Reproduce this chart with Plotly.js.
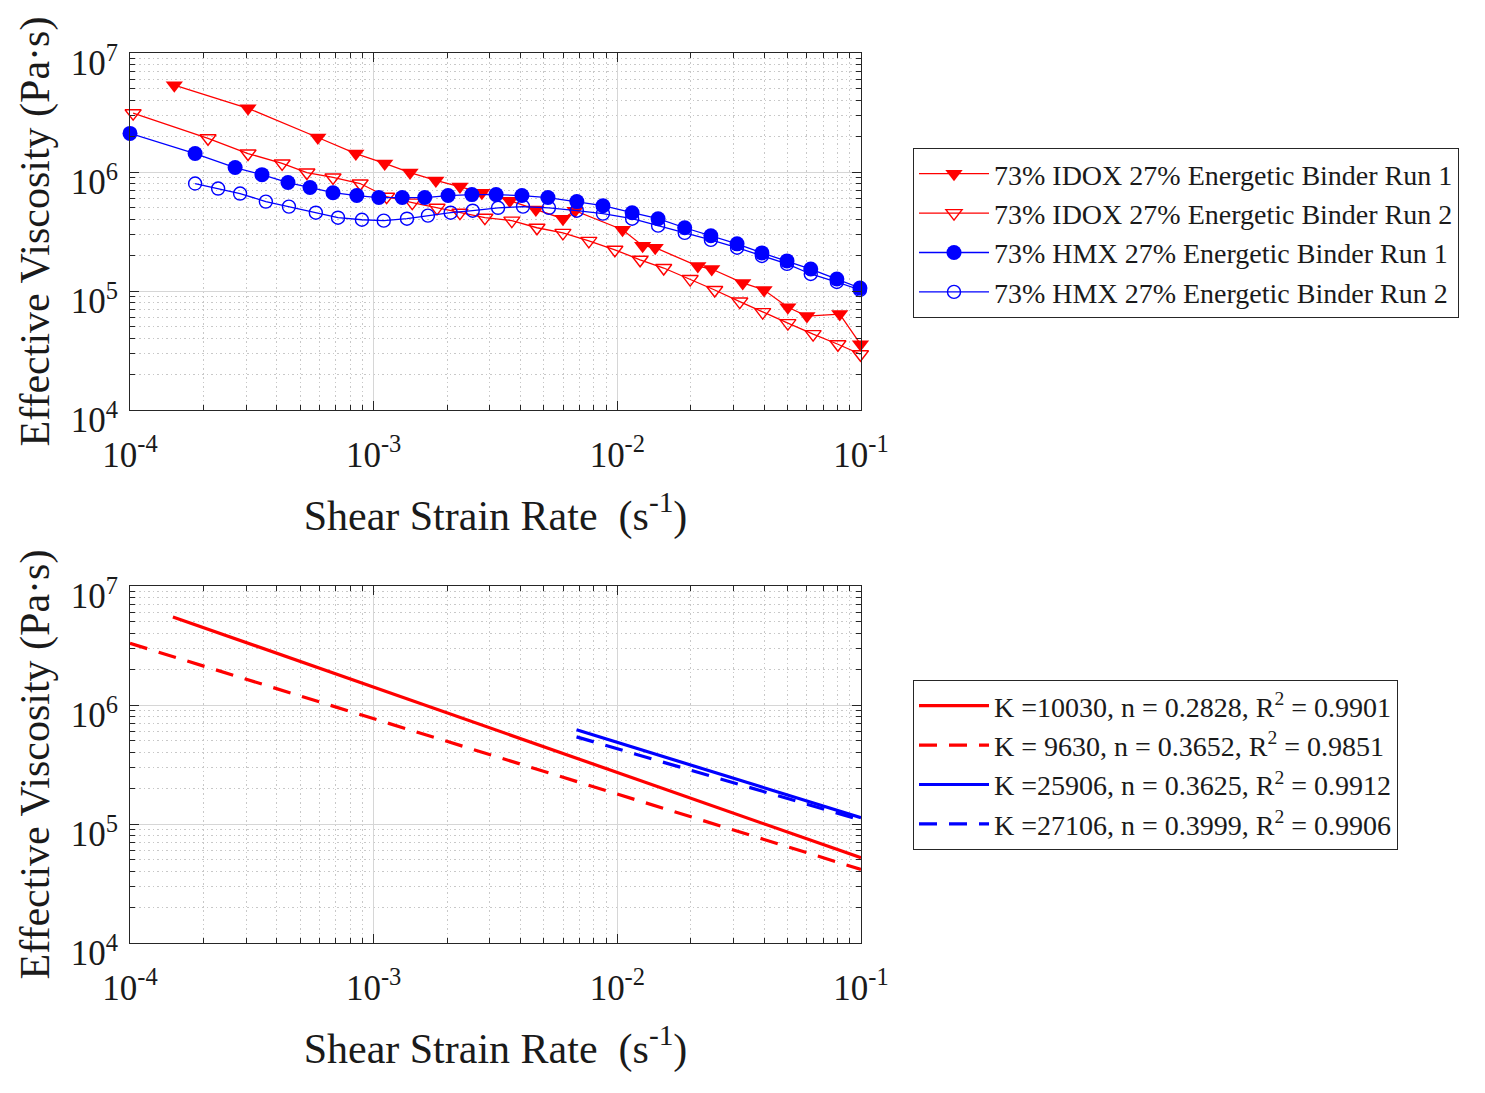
<!DOCTYPE html>
<html>
<head>
<meta charset="utf-8">
<script src="https://cdn.plot.ly/plotly-3.0.1.min.js"></script>
<style>html,body{margin:0;padding:0;background:#fff;}#chart{width:1485px;height:1093px;}</style>
</head>
<body>
<div id="chart"></div>
<script>
// ---------- data ----------
const idox1_x = [1.52e-4, 3.05e-4, 5.90e-4, 8.45e-4, 1.11e-3, 1.41e-3, 1.80e-3, 2.26e-3, 2.78e-3, 3.62e-3, 4.63e-3, 5.98e-3, 6.70e-3, 1.05e-2, 1.27e-2, 1.43e-2, 2.14e-2, 2.44e-2, 3.27e-2, 4.00e-2, 5.01e-2, 6.00e-2, 8.18e-2, 0.0995];
const idox1_y = [5.37e6, 3.43e6, 1.95e6, 1.43e6, 1.18e6, 9.9e5, 8.5e5, 7.55e5, 6.7e5, 5.74e5, 4.83e5, 4.05e5, 4.73e5, 3.27e5, 2.40e5, 2.31e5, 1.62e5, 1.53e5, 1.17e5, 1.02e5, 7.3e4, 6.15e4, 6.4e4, 3.57e4];

const idox2_x = [1.03e-4, 2.09e-4, 3.05e-4, 4.21e-4, 5.32e-4, 6.81e-4, 8.8e-4, 1.13e-3, 1.44e-3, 1.82e-3, 2.26e-3, 2.86e-3, 3.69e-3, 4.68e-3, 5.98e-3, 7.64e-3, 9.77e-3, 1.24e-2, 1.55e-2, 1.99e-2, 2.51e-2, 3.18e-2, 3.95e-2, 5.01e-2, 6.36e-2, 8.04e-2, 0.0995];
const idox2_y = [3.12e6, 1.92e6, 1.43e6, 1.18e6, 9.9e5, 9.0e5, 8.0e5, 6.2e5, 5.53e5, 5.0e5, 4.55e5, 4.13e5, 3.90e5, 3.40e5, 3.08e5, 2.64e5, 2.22e5, 1.83e5, 1.56e5, 1.26e5, 1.02e5, 8.15e4, 6.65e4, 5.37e4, 4.34e4, 3.57e4, 2.94e4];

const hmx1_x = [1.0e-4, 1.85e-4, 2.70e-4, 3.48e-4, 4.45e-4, 5.48e-4, 6.81e-4, 8.53e-4, 1.05e-3, 1.31e-3, 1.62e-3, 2.02e-3, 2.53e-3, 3.18e-3, 4.06e-3, 5.19e-3, 6.82e-3, 8.73e-3, 1.15e-2, 1.47e-2, 1.89e-2, 2.42e-2, 3.10e-2, 3.92e-2, 4.97e-2, 6.22e-2, 7.96e-2, 0.099];
const hmx1_y = [2.11e6, 1.43e6, 1.09e6, 9.5e5, 8.15e5, 7.4e5, 6.7e5, 6.34e5, 6.1e5, 6.1e5, 6.1e5, 6.34e5, 6.46e5, 6.46e5, 6.34e5, 6.1e5, 5.64e5, 5.21e5, 4.55e5, 4.05e5, 3.40e5, 2.91e5, 2.49e5, 2.09e5, 1.79e5, 1.53e5, 1.26e5, 1.06e5];

const hmx2_x = [1.85e-4, 2.30e-4, 2.83e-4, 3.61e-4, 4.49e-4, 5.79e-4, 7.14e-4, 8.95e-4, 1.10e-3, 1.37e-3, 1.67e-3, 2.07e-3, 2.55e-3, 3.24e-3, 4.10e-3, 5.24e-3, 6.82e-3, 8.73e-3, 1.15e-2, 1.47e-2, 1.89e-2, 2.42e-2, 3.10e-2, 3.92e-2, 4.97e-2, 6.22e-2, 7.96e-2, 0.099];
const hmx2_y = [8.0e5, 7.26e5, 6.59e5, 5.64e5, 5.12e5, 4.55e5, 4.13e5, 3.97e5, 3.90e5, 4.05e5, 4.30e5, 4.55e5, 4.73e5, 5.0e5, 5.12e5, 5.0e5, 4.73e5, 4.47e5, 4.05e5, 3.54e5, 3.08e5, 2.69e5, 2.31e5, 1.97e5, 1.69e5, 1.39e5, 1.19e5, 1.02e5];

// power-law fit lines (end points)
const fit_idox1_x = [1.5e-4, 0.1];
const fit_idox1_y = [5.5e6, 5.2e4];
const fit_idox2_x = [1.0e-4, 0.1];
const fit_idox2_y = [3.3e6, 4.15e4];
const fit_hmx1_x = [6.8e-3, 0.1];
const fit_hmx1_y = [6.2e5, 1.13e5];
const fit_hmx2_x = [6.8e-3, 0.1];
const fit_hmx2_y = [5.4e5, 1.08e5];

const series_names = [
  '73% IDOX 27% Energetic Binder Run 1',
  '73% IDOX 27% Energetic Binder Run 2',
  '73% HMX 27% Energetic Binder Run 1',
  '73% HMX 27% Energetic Binder Run 2'
];
const fit_names = [
  'K =10030, n = 0.2828, R<sup>2</sup> = 0.9901',
  'K = 9630, n = 0.3652, R<sup>2</sup> = 0.9851',
  'K =25906, n = 0.3625, R<sup>2</sup> = 0.9912',
  'K =27106, n = 0.3999, R<sup>2</sup> = 0.9906'
];

const x_tickvals = [1e-4, 1e-3, 1e-2, 1e-1];
const x_ticktext = ['10<sup>-4</sup>', '10<sup>-3</sup>', '10<sup>-2</sup>', '10<sup>-1</sup>'];
const y_tickvals = [1e4, 1e5, 1e6, 1e7];
const y_ticktext = ['10<sup>4</sup>', '10<sup>5</sup>', '10<sup>6</sup>', '10<sup>7</sup>'];

// ---------- styling ----------
const RED = '#ff0000', BLUE = '#0000ff', INK = '#1a1a1a';
const FONT = 'Liberation Serif, Times New Roman, serif';

function minorVals(lo, hi) {
  const v = [];
  for (let e = lo; e < hi; e++) for (let m = 2; m <= 9; m++) v.push(m * Math.pow(10, e));
  return v;
}

function axis(isX, range, tickvals, ticktext, minorTicks, domain, anchor, title) {
  const a = {
    type: 'log', range: range, domain: domain, anchor: anchor,
    tickmode: 'array', tickvals: tickvals, ticktext: ticktext,
    showline: true, linecolor: '#262626', linewidth: 1, mirror: 'ticks',
    ticks: 'inside', ticklen: 9, tickwidth: 1, tickcolor: '#262626',
    showgrid: true, gridcolor: '#d6d6d6', gridwidth: 1, zeroline: false,
    tickfont: {family: FONT, size: 35, color: INK},
    minor: {tickmode: 'array', tickvals: minorTicks, ticks: 'inside', ticklen: 5,
            tickcolor: '#262626', showgrid: true, gridcolor: '#c8c8c8', griddash: '1.5px,3px', gridwidth: 1},
    title: {text: title, font: {family: FONT, size: 42, color: INK}},
    automargin: false, fixedrange: true
  };
  if (isX) {
    a.ticklabelstandoff = 14;
    a.title.standoff = 26;
  } else {
    a.ticklabelstandoff = 4;
    a.ticklabelshift = 10;
    a.title.standoff = 8;
  }
  return a;
}

const xminor = minorVals(-4, -1);
const yminor = minorVals(4, 7);

const traces = [
  {x: idox1_x, y: idox1_y, name: series_names[0], mode: 'lines+markers', xaxis: 'x', yaxis: 'y', legend: 'legend',
   line: {color: RED, width: 1.3}, marker: {symbol: 'triangle-down', size: 15, color: RED}, cliponaxis: false},
  {x: idox2_x, y: idox2_y, name: series_names[1], mode: 'lines+markers', xaxis: 'x', yaxis: 'y', legend: 'legend',
   line: {color: RED, width: 1.3}, marker: {symbol: 'triangle-down-open', size: 14, color: RED, line: {width: 1.4, color: RED}}, cliponaxis: false},
  {x: hmx1_x, y: hmx1_y, name: series_names[2], mode: 'lines+markers', xaxis: 'x', yaxis: 'y', legend: 'legend',
   line: {color: BLUE, width: 1.3}, marker: {symbol: 'circle', size: 15, color: BLUE}, cliponaxis: false},
  {x: hmx2_x, y: hmx2_y, name: series_names[3], mode: 'lines+markers', xaxis: 'x', yaxis: 'y', legend: 'legend',
   line: {color: BLUE, width: 1.3}, marker: {symbol: 'circle-open', size: 13, color: BLUE, line: {width: 1.4, color: BLUE}}, cliponaxis: false},

  {x: fit_idox1_x, y: fit_idox1_y, name: fit_names[0], mode: 'lines', xaxis: 'x2', yaxis: 'y2', legend: 'legend2',
   line: {color: RED, width: 3.2}},
  {x: fit_idox2_x, y: fit_idox2_y, name: fit_names[1], mode: 'lines', xaxis: 'x2', yaxis: 'y2', legend: 'legend2',
   line: {color: RED, width: 3.2, dash: '18px,12px'}},
  {x: fit_hmx1_x, y: fit_hmx1_y, name: fit_names[2], mode: 'lines', xaxis: 'x2', yaxis: 'y2', legend: 'legend2',
   line: {color: BLUE, width: 3.2}},
  {x: fit_hmx2_x, y: fit_hmx2_y, name: fit_names[3], mode: 'lines', xaxis: 'x2', yaxis: 'y2', legend: 'legend2',
   line: {color: BLUE, width: 3.2, dash: '18px,12px'}}
];

const W = 1485, H = 1093;
const xdom = [130 / W, 861 / W];
const ydomTop = [1 - 410 / H, 1 - 53 / H];
const ydomBot = [1 - 943 / H, 1 - 586 / H];

const xTitle = 'Shear Strain Rate\u00a0 (s<sup>-1</sup>)';
const yTitle = 'Effective Viscosity (Pa\u00b7s)';

const legendStyle = {
  font: {family: FONT, size: 28, color: INK},
  bgcolor: '#ffffff', bordercolor: '#262626', borderwidth: 1,
  xanchor: 'left', yanchor: 'top', itemwidth: 70, tracegroupgap: 0
};

const layout = {
  width: W, height: H,
  margin: {l: 0, r: 0, t: 0, b: 0},
  paper_bgcolor: '#ffffff', plot_bgcolor: '#ffffff',
  showlegend: true,
  xaxis: axis(true, [-4, -1], x_tickvals, x_ticktext, xminor, xdom, 'y', xTitle),
  yaxis: axis(false, [4, 7], y_tickvals, y_ticktext, yminor, ydomTop, 'x', yTitle),
  xaxis2: axis(true, [-4, -1], x_tickvals, x_ticktext, xminor, xdom, 'y2', xTitle),
  yaxis2: axis(false, [4, 7], y_tickvals, y_ticktext, yminor, ydomBot, 'x2', yTitle),
  legend: Object.assign({}, legendStyle, {x: 913 / W, y: 1 - 148 / H}),
  legend2: Object.assign({}, legendStyle, {x: 913 / W, y: 1 - 680 / H})
};

Plotly.newPlot('chart', traces, layout, {displayModeBar: false, staticPlot: true});
</script>
</body>
</html>
